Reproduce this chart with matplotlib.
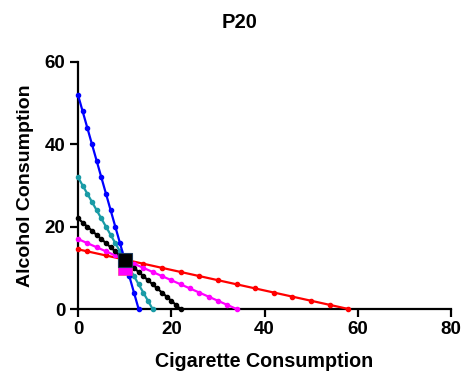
import numpy as np
import matplotlib.pyplot as plt

plt.rcParams['font.family'] = ['Liberation Sans', 'DejaVu Sans']
plt.rcParams['font.weight'] = 'bold'

# budget lines: cigarette (x) vs alcohol (y)
blue_x = [0, 1, 2, 3, 4, 5, 6, 7, 8, 9, 10, 11, 12, 13]
blue_y = [52, 48, 44, 40, 36, 32, 28, 24, 20, 16, 12, 8, 4, 0]

teal_x = [0, 1, 2, 3, 4, 5, 6, 7, 8, 9, 10, 11, 12, 13, 14, 15, 16]
teal_y = [32, 30, 28, 26, 24, 22, 20, 18, 16, 14, 12, 10, 8, 6, 4, 2, 0]

black_x = list(range(0, 23))
black_y = [22 - v for v in black_x]

magenta_y = list(range(17, -1, -1))
magenta_x = [(17 - v) * 2 for v in magenta_y]

red_y = [14.5, 14, 13, 12, 11, 10, 9, 8, 7, 6, 5, 4, 3, 2, 1, 0]
red_x = [0, 2, 6, 10, 14, 18, 22, 26, 30, 34, 38, 42, 46, 50, 54, 58]

# chosen bundles
opt_magenta = (10, 10)
opt_black = (10, 12)

fig = plt.figure(figsize=(4.67, 3.74), dpi=100)
ax = fig.add_axes([78 / 467, 65 / 374, 373 / 467, 247 / 374])

for xs, ys, c in [(red_x, red_y, '#FF0000'),
                  (magenta_x, magenta_y, '#FF00FF'),
                  (black_x, black_y, '#000000'),
                  (teal_x, teal_y, '#1A9BA6'),
                  (blue_x, blue_y, '#0000FF')]:
    ax.plot(xs, ys, color=c, lw=1.6, marker='o', ms=3, clip_on=False, zorder=3)

ax.plot(*opt_magenta, marker='s', ms=10.5, color='#FF00FF', mec='#FF3399',
        mew=0.5, ls='none', zorder=5, clip_on=False)
ax.plot(*opt_black, marker='s', ms=10.5, color='#000000', mec='#1F3A5A',
        mew=0.8, ls='none', zorder=6, clip_on=False)

ax.set_xlim(0, 80)
ax.set_ylim(0, 60)
ax.set_xticks([0, 20, 40, 60, 80])
ax.set_yticks([0, 20, 40, 60])
ax.spines['top'].set_visible(False)
ax.spines['right'].set_visible(False)
ax.spines['left'].set_linewidth(1.6)
ax.spines['bottom'].set_linewidth(1.6)
ax.tick_params(width=1.6, length=6, labelsize=13.5, pad=3)
for lab in ax.get_xticklabels() + ax.get_yticklabels():
    lab.set_fontweight('bold')

ax.set_xlabel('Cigarette Consumption', fontsize=14.2, fontweight='bold', labelpad=10)
ax.set_ylabel('Alcohol Consumption', fontsize=14, fontweight='bold', labelpad=8)
fig.text(240 / 467, 351 / 374, 'P20', fontsize=14.5, fontweight='bold', ha='center', va='center')

fig.savefig('out.png', dpi=100)
